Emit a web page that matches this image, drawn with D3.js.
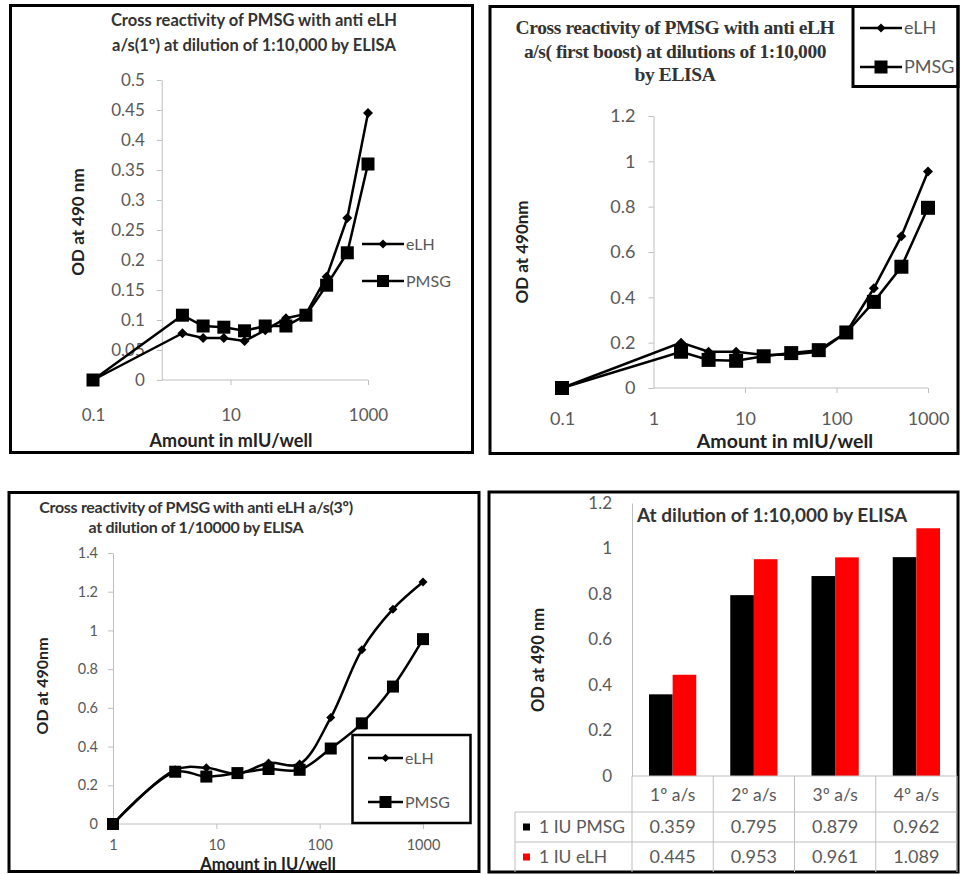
<!DOCTYPE html>
<html>
<head>
<meta charset="utf-8">
<script src="https://cdn.jsdelivr.net/npm/d3@7"></script>
<style>
  body { margin: 0; background: #fff; }
  svg text { font-family: Lato, "Open Sans", sans-serif; }
</style>
</head>
<body>
<svg id="chart" width="960" height="874"></svg>
<script>
// panel 1 : first antiserum
var p1Dose = [0.1, 2, 4, 8, 16, 32, 64, 125, 250, 500, 1000];
var p1ELH  = [0, 0.078, 0.07, 0.07, 0.065, 0.083, 0.103, 0.11, 0.172, 0.27, 0.445];
var p1PMSG = [0, 0.108, 0.09, 0.088, 0.082, 0.09, 0.09, 0.108, 0.158, 0.212, 0.36];
var p1YTicks = [0, 0.05, 0.1, 0.15, 0.2, 0.25, 0.3, 0.35, 0.4, 0.45, 0.5];
var p1XTicks = [0.1, 10, 1000];

// panel 2 : first boost
var p2Dose = [0.1, 2, 4, 8, 16, 32, 64, 128, 256, 512, 1000];
var p2ELH  = [0, 0.2, 0.16, 0.16, 0.146, 0.148, 0.16, 0.245, 0.44, 0.67, 0.955];
var p2PMSG = [0, 0.16, 0.124, 0.12, 0.14, 0.154, 0.167, 0.245, 0.38, 0.535, 0.795];
var p2YTicks = [0, 0.2, 0.4, 0.6, 0.8, 1, 1.2];
var p2XTicks = [0.1, 1, 10, 100, 1000];

// panel 3 : third antiserum
var p3Dose = [1, 4, 8, 16, 32, 64, 128, 256, 512, 1000];
var p3ELH  = [0, 0.28, 0.29, 0.26, 0.315, 0.31, 0.55, 0.9, 1.11, 1.25];
var p3PMSG = [0, 0.27, 0.245, 0.263, 0.284, 0.28, 0.39, 0.52, 0.71, 0.955];
var p3YTicks = [0, 0.2, 0.4, 0.6, 0.8, 1, 1.2, 1.4];
var p3XTicks = [1, 10, 100, 1000];

// panel 4 : bars + data table
var barCats = ["1º a/s", "2º a/s", "3º a/s", "4º a/s"];
var barPMSG = [0.359, 0.795, 0.879, 0.962];
var barELH  = [0.445, 0.953, 0.961, 1.089];
var barYTicks = [0, 0.2, 0.4, 0.6, 0.8, 1, 1.2];

var svg = d3.select("#chart");
var grey = "#595959", axisCol = "#bfbfbf";
var numFmt = function(d) { return String(+d.toFixed(2)); };

function diamond(r) { return "M0," + (-r) + "L" + r + ",0L0," + r + "L" + (-r) + ",0Z"; }

function frame(x, y, w, h) {
  svg.append("rect").attr("x", x).attr("y", y).attr("width", w).attr("height", h)
    .attr("fill", "none").attr("stroke", "#000").attr("stroke-width", 3);
}

function drawMarkers(g, pts, kind, size) {
  if (kind == "diamond") {
    g.selectAll(null).data(pts).enter().append("path")
      .attr("d", diamond(size / 2))
      .attr("transform", function(d) { return "translate(" + d[0] + "," + d[1] + ")"; })
      .attr("fill", "#000");
  } else {
    g.selectAll(null).data(pts).enter().append("rect")
      .attr("x", function(d) { return d[0] - size / 2; })
      .attr("y", function(d) { return d[1] - size / 2; })
      .attr("width", size).attr("height", size).attr("fill", "#000");
  }
}

function linePanel(c) {
  var g = svg.append("g");
  var x = d3.scaleLog().domain(c.xDomain).range(c.xRange);
  var y = d3.scaleLinear().domain([0, c.yMax]).range(c.yRange);
  var ax = x(c.cross);

  // y axis
  var ya = g.append("g").attr("transform", "translate(" + ax + ",0)")
    .call(d3.axisLeft(y).tickValues(c.yTicks).tickSize(5).tickSizeOuter(0)
      .tickPadding(c.yPad).tickFormat(numFmt));
  ya.selectAll("path, line").attr("stroke", axisCol);
  ya.selectAll("text").attr("fill", grey).style("font-size", c.tickSize + "px");

  // x axis, the line only runs right of the vertical axis
  var xa = g.append("g").attr("transform", "translate(0," + c.yRange[0] + ")")
    .call(d3.axisBottom(x).tickValues(c.xTicks).tickSize(5).tickPadding(c.xPad)
      .tickFormat(d3.format("~g")));
  xa.select(".domain").remove();
  xa.selectAll("line").attr("stroke", axisCol)
    .attr("opacity", function(d) { return d <= c.cross ? 0 : 1; });
  xa.selectAll("text").attr("fill", grey).style("font-size", c.tickSize + "px");
  g.append("line").attr("x1", ax).attr("x2", c.xRange[1])
    .attr("y1", c.yRange[0]).attr("y2", c.yRange[0]).attr("stroke", axisCol);

  var line = d3.line().x(function(d) { return x(d[0]); }).y(function(d) { return y(d[1]); })
    .curve(c.curve);
  [[c.pmsg, "square", c.sq], [c.elh, "diamond", c.dm]].forEach(function(s) {
    var pts = c.dose.map(function(d, i) { return [d, s[0][i]]; });
    g.append("path").attr("d", line(pts)).attr("fill", "none")
      .attr("stroke", "#000").attr("stroke-width", 2.5);
    drawMarkers(g, pts.map(function(p) { return [x(p[0]), y(p[1])]; }), s[1], s[2]);
  });

  // legend
  var lg = c.legend;
  [["eLH", "diamond", lg.dm, lg.y1], ["PMSG", "square", lg.sq, lg.y2]].forEach(function(e) {
    g.append("line").attr("x1", lg.x1).attr("x2", lg.x2).attr("y1", e[3]).attr("y2", e[3])
      .attr("stroke", "#000").attr("stroke-width", 2.5);
    drawMarkers(g, [[(lg.x1 + lg.x2) / 2, e[3]]], e[1], e[2]);
    g.append("text").attr("x", lg.x2 + 2).attr("y", e[3]).attr("dy", "0.35em")
      .attr("fill", grey).style("font-size", lg.font + "px").text(e[0]);
  });

  // titles
  g.selectAll(null).data(c.title).enter().append("text")
    .attr("x", c.titleX).attr("y", function(d, i) { return c.titleY + i * c.titleGap; })
    .attr("text-anchor", "middle").attr("fill", "#333").attr("font-weight", "bold")
    .style("font-size", c.titleSize + "px")
    .style("font-family", c.titleFont || null)
    .style("letter-spacing", c.titleSpacing || null)
    .text(function(d) { return d; });
  g.append("text").attr("transform", "translate(" + c.yLab[0] + "," + c.yLab[1] + ") rotate(-90)")
    .attr("text-anchor", "middle").attr("font-weight", "bold").attr("fill", "#222")
    .style("font-size", c.yLab[2] + "px").text(c.yLab[3]);
  g.append("text").attr("x", c.xLab[0]).attr("y", c.xLab[1])
    .attr("text-anchor", "middle").attr("font-weight", "bold").attr("fill", "#222")
    .style("font-size", c.xLab[2] + "px").text(c.xLab[3]);
}

frame(10.5, 5.5, 462, 447);
frame(490, 6.5, 468, 447);
frame(9, 492.5, 470, 379);
frame(489, 492, 469, 380);

linePanel({
  dose: p1Dose, elh: p1ELH, pmsg: p1PMSG, yTicks: p1YTicks, xTicks: p1XTicks,
  xDomain: [0.1, 1000], xRange: [93, 368], cross: 1, yMax: 0.5, yRange: [380, 80],
  yPad: 12, xPad: 24, tickSize: 17, curve: d3.curveLinear, sq: 13, dm: 10,
  legend: { x1: 362, x2: 404, y1: 244, y2: 281, dm: 9, sq: 12, font: 16 },
  title: ["Cross reactivity of PMSG with anti eLH", "a/s(1º) at dilution of 1:10,000 by ELISA"],
  titleX: 254, titleY: 26, titleGap: 25, titleSize: 16.5,
  yLab: [84, 222, 17, "OD at 490 nm"], xLab: [231, 447, 18, "Amount in mIU/well"]
});

linePanel({
  dose: p2Dose, elh: p2ELH, pmsg: p2PMSG, yTicks: p2YTicks, xTicks: p2XTicks,
  xDomain: [0.1, 1000], xRange: [562, 928], cross: 1, yMax: 1.2, yRange: [388, 116],
  yPad: 13, xPad: 19, tickSize: 18, curve: d3.curveLinear, sq: 14, dm: 10,
  legend: { x1: 860, x2: 902, y1: 28, y2: 67, dm: 9, sq: 13, font: 18 },
  title: ["Cross reactivity of PMSG with anti eLH", "a/s( first boost) at dilutions of 1:10,000", "by ELISA"],
  titleX: 675, titleY: 34, titleGap: 23.5, titleSize: 19.5, titleFont: "'Liberation Serif', serif",
  titleSpacing: "-0.4px",
  yLab: [528, 252, 17, "OD at 490nm"], xLab: [785, 448, 19.5, "Amount in mIU/well"]
});
svg.append("rect").attr("x", 853).attr("y", 6.5).attr("width", 105).attr("height", 80)
  .attr("fill", "none").attr("stroke", "#000").attr("stroke-width", 3);

linePanel({
  dose: p3Dose, elh: p3ELH, pmsg: p3PMSG, yTicks: p3YTicks, xTicks: p3XTicks,
  xDomain: [1, 1000], xRange: [113, 423], cross: 1, yMax: 1.4, yRange: [824, 553],
  yPad: 10, xPad: 11, tickSize: 14.5, curve: d3.curveCatmullRom.alpha(0.5), sq: 12, dm: 9,
  legend: { x1: 368, x2: 403, y1: 758, y2: 802, dm: 8, sq: 12, font: 16 },
  title: ["Cross reactivity of PMSG with anti eLH a/s(3º)", "at dilution of 1/10000 by ELISA"],
  titleX: 196, titleY: 513, titleGap: 20, titleSize: 16, titleSpacing: "-0.3px",
  yLab: [48, 686, 16, "OD at 490nm"], xLab: [268, 869.5, 16.5, "Amount in IU/well"]
});
svg.append("rect").attr("x", 352.5).attr("y", 735).attr("width", 118).attr("height", 88)
  .attr("fill", "none").attr("stroke", "#000").attr("stroke-width", 2.5);

// bar panel with data table
(function() {
  var g = svg.append("g");
  var x = d3.scaleBand().domain(barCats).range([632, 957]);
  var inner = d3.scaleBand().domain(["PMSG", "eLH"]).range([0, x.bandwidth()]).paddingOuter(0.72);
  var y = d3.scaleLinear().domain([0, 1.2]).range([776, 503]);
  var series = [["PMSG", barPMSG, "#000"], ["eLH", barELH, "#ff0000"]];

  var ya = g.append("g").attr("transform", "translate(632,0)")
    .call(d3.axisLeft(y).tickValues(barYTicks).tickSize(0).tickPadding(20).tickFormat(numFmt));
  ya.select(".domain").attr("stroke", axisCol);
  ya.selectAll("text").attr("fill", grey).style("font-size", "17px");

  series.forEach(function(s) {
    g.selectAll(null).data(barCats).enter().append("rect")
      .attr("x", function(d) { return x(d) + inner(s[0]); })
      .attr("width", inner.bandwidth())
      .attr("y", function(d, i) { return y(s[1][i]); })
      .attr("height", function(d, i) { return y(0) - y(s[1][i]); })
      .attr("fill", s[2]);
  });

  // table grid
  var rows = [776, 812, 842, 872];
  g.append("line").attr("x1", 632).attr("x2", 957).attr("y1", 776).attr("y2", 776).attr("stroke", axisCol);
  [812, 842].forEach(function(yy) {
    g.append("line").attr("x1", 515).attr("x2", 957).attr("y1", yy).attr("y2", yy).attr("stroke", axisCol);
  });
  barCats.concat(["end"]).forEach(function(d, i) {
    var xx = i < barCats.length ? x(d) : x.range()[1];
    g.append("line").attr("x1", xx).attr("x2", xx).attr("y1", 776).attr("y2", 872).attr("stroke", axisCol);
  });
  g.append("line").attr("x1", 515).attr("x2", 515).attr("y1", 812).attr("y2", 872).attr("stroke", axisCol);

  g.selectAll(null).data(barCats).enter().append("text")
    .attr("x", function(d) { return x(d) + x.bandwidth() / 2; }).attr("y", 795).attr("dy", "0.35em")
    .attr("text-anchor", "middle").attr("fill", grey).style("font-size", "17.5px")
    .text(function(d) { return d; });
  var f3 = d3.format(".3f");
  series.forEach(function(s, r) {
    var cy = (rows[r + 1] + rows[r + 2]) / 2;
    g.selectAll(null).data(s[1]).enter().append("text")
      .attr("x", function(d, i) { return x(barCats[i]) + x.bandwidth() / 2; }).attr("y", cy).attr("dy", "0.35em")
      .attr("text-anchor", "middle").attr("fill", grey).style("font-size", "18px")
      .text(function(d) { return f3(d); });
    g.append("rect").attr("x", 523).attr("y", cy - 3.5).attr("width", 7).attr("height", 7).attr("fill", s[2]);
    g.append("text").attr("x", 539).attr("y", cy).attr("dy", "0.35em")
      .attr("fill", grey).style("font-size", "17.5px").text("1 IU " + s[0]);
  });

  g.append("text").attr("x", 637).attr("y", 522).attr("fill", "#333").attr("font-weight", "bold")
    .style("font-size", "19px").text("At dilution of 1:10,000 by ELISA");
  g.append("text").attr("transform", "translate(544,660) rotate(-90)").attr("text-anchor", "middle")
    .attr("font-weight", "bold").attr("fill", "#222").style("font-size", "16.5px").text("OD at 490 nm");
})();
</script>
</body>
</html>
